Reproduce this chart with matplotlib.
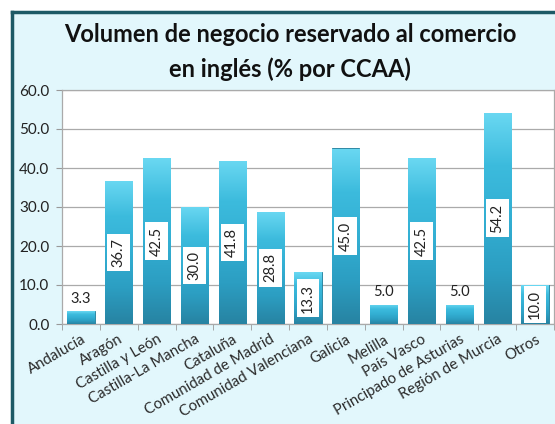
import matplotlib.pyplot as plt
import numpy as np
from matplotlib.colors import LinearSegmentedColormap
from matplotlib.patches import Rectangle
from matplotlib.lines import Line2D

plt.rcParams['font.family'] = ['Lato', 'DejaVu Sans']

regions = ['Andalucía', 'Aragón', 'Castilla y León', 'Castilla-La Mancha',
           'Cataluña', 'Comunidad de Madrid', 'Comunidad Valenciana',
           'Galicia', 'Melilla', 'País Vasco', 'Principado de Asturias',
           'Región de Murcia', 'Otros']
values = [3.3, 36.7, 42.5, 30.0, 41.8, 28.8, 13.3, 45.0, 5.0, 42.5, 5.0, 54.2, 10.0]

BG = '#e2f7fc'
FRAME = '#1d5a66'

fig = plt.figure(figsize=(5.55, 4.24), dpi=100)
fig.patch.set_facecolor('white')
# light cyan panel with dark frame (only left/top edges are visible)
fx, fy = 11.5 / 555, 1 - 11.5 / 424
fig.patches.append(Rectangle((fx, 0), 1 - fx, fy, transform=fig.transFigure,
                             facecolor=BG, edgecolor='none', zorder=-5))
fig.lines.append(Line2D([fx, fx], [0, fy], transform=fig.transFigure,
                        color=FRAME, linewidth=2.5, zorder=-4))
fig.lines.append(Line2D([fx, 1], [fy, fy], transform=fig.transFigure,
                        color=FRAME, linewidth=2.5, zorder=-4))

ax = fig.add_axes([62 / 555, 1 - 324 / 424, 492 / 555, 234 / 424])
ax.set_zorder(2)
ax.set_facecolor('white')

x = np.arange(len(regions))
bars = ax.bar(x, values, width=0.72, color='#2fa6c9', edgecolor='#1f7e9b',
              linewidth=0.6, zorder=3)

# vertical gradient on each bar
cmap = LinearSegmentedColormap.from_list('bar', ['#2783a2', '#2c9ec2', '#33afd3', '#3cbbdd', '#6ad8f2'])
grad = np.linspace(0, 1, 256).reshape(-1, 1)
for b in bars:
    x0, y0 = b.get_x(), b.get_y()
    im = ax.imshow(grad, cmap=cmap, origin='lower', aspect='auto',
                   extent=(x0, x0 + b.get_width(), y0, y0 + b.get_height()),
                   zorder=3.5)
    im.set_clip_path(b)

for xi, v in zip(x, values):
    if v < 6:
        ax.text(xi, v + 1.3, f'{v:.1f}', ha='center', va='bottom',
                fontsize=10.5, color='#222222', zorder=5)
    else:
        ax.text(xi, v / 2, f'{v:.1f}', ha='center', va='center', rotation=90,
                fontsize=10.5, color='#222222', zorder=5,
                bbox=dict(boxstyle='square,pad=0.3', facecolor='white',
                          edgecolor='none'))

ax.set_xlim(-0.5, len(regions) - 0.5)
ax.set_ylim(0, 60)
ax.set_yticks(np.arange(0, 61, 10))
ax.set_yticklabels([f'{t:.1f}' for t in np.arange(0, 61, 10)], fontsize=11,
                   color='#222222')
ax.yaxis.grid(True, color='#aaaaaa', linewidth=0.9, zorder=0)
ax.set_axisbelow(True)

ax.set_xticks(x)
ax.set_xticklabels(regions, rotation=30, ha='right', rotation_mode='anchor',
                   fontsize=10.8, color='#2a2a2a')
ax.tick_params(axis='x', length=0, pad=6)
ax.set_xticks(np.arange(-0.5, len(regions), 1), minor=True)
ax.tick_params(axis='x', which='minor', length=4, color='#999999')
ax.tick_params(axis='y', length=4, color='#999999', pad=5)

for s in ax.spines.values():
    s.set_color('#aaaaaa')
    s.set_linewidth(0.9)

fig.text(0.523, 1 - 35 / 424, 'Volumen de negocio reservado al comercio',
         ha='center', va='center', fontsize=17, fontweight='bold', color='#111111')
fig.text(0.523, 1 - 69 / 424, 'en inglés (% por CCAA)',
         ha='center', va='center', fontsize=17, fontweight='bold', color='#111111')

fig.savefig('out.png', dpi=100, facecolor=fig.get_facecolor())
